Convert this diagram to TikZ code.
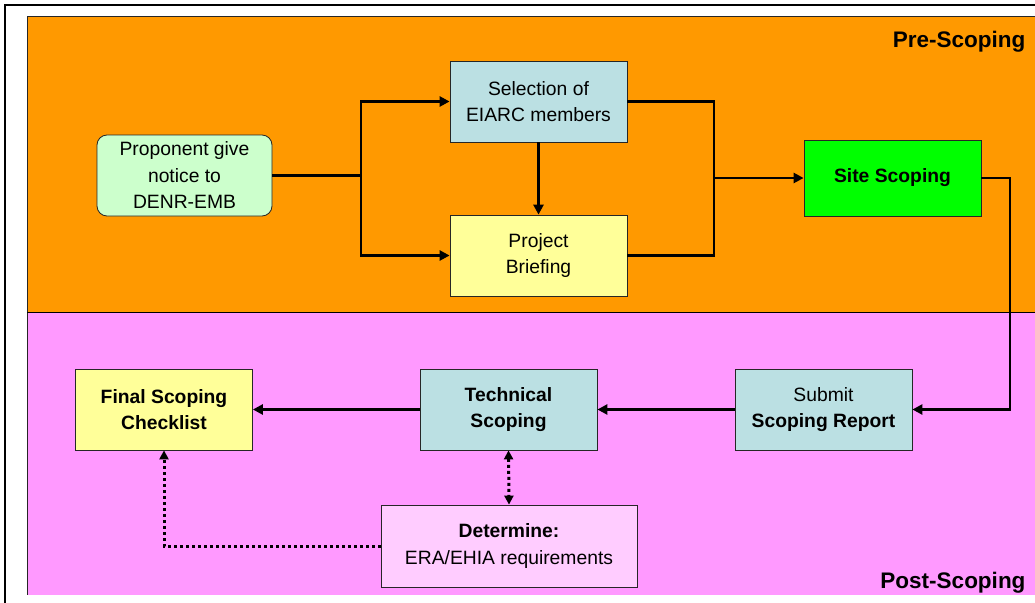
\documentclass[tikz,border=0pt]{standalone}
\usepackage{fontspec}
\setmainfont{Liberation Sans}
\usetikzlibrary{arrows.meta}
\definecolor{orangebg}{HTML}{FF9900}
\definecolor{pinkbg}{HTML}{FF99FF}
\definecolor{lgreen}{HTML}{CCFFCC}
\definecolor{lblue}{HTML}{BBE0E3}
\definecolor{lyellow}{HTML}{FFFF99}
\definecolor{lpink}{HTML}{FFCCFF}
\definecolor{sitegreen}{HTML}{00FF00}
\begin{document}
\begin{tikzpicture}[x=1pt,y=-1pt,
  box/.style={draw=black!85, line width=0.8pt, minimum width=177pt, minimum height=81pt,
    align=center, inner sep=2pt, font=\fontsize{19.3}{26.5}\selectfont},
  boldbox/.style={box, font=\fontsize{19.3}{26.5}\selectfont\bfseries},
  link/.style={line width=2.8pt},
  flow/.style={link, -{Triangle[length=10pt,width=10pt]}},
  dots/.style={line width=3pt, dash pattern=on 3pt off 3pt},
  lab/.style={anchor=base east, font=\fontsize{22.5}{27}\selectfont\bfseries}]
\useasboundingbox (0,0) rectangle (1035,602);
\fill[white] (0,0) rectangle (1035,602);
% frame and bands
\fill[orangebg] (27,17) rectangle (1036,312);
\fill[pinkbg] (27,312) rectangle (1036,595);
\draw[line width=1pt, black!85] (1036,17) -- (27,17) -- (27,595);
\draw[line width=0.8pt] (27,312) -- (1036,312);
\draw[line width=2pt] (5,603) -- (5,5) -- (1036,5);
% labels
\node[lab] (pre) at (1029,48) {Pre-Scoping};
\node[lab] (post) at (1029,588) {Post-Scoping};
% nodes
\node[box, rounded corners=10pt, fill=lgreen, minimum width=175pt] (prop) at (184.5,175.5) {Proponent give\\notice to\\DENR-EMB};
\node[box, fill=lblue] (sel) at (538.5,101.5) {Selection of\\EIARC members};
\node[box, fill=lyellow] (brief) at (538.5,255.5) {Project\\Briefing};
\node[boldbox, fill=sitegreen, minimum height=76pt] (site) at (892.5,178) {Site Scoping};
\node[box, fill=lblue] (sub) at (823.5,409.5) {Submit\\\textbf{Scoping Report}};
\node[boldbox, fill=lblue] (tech) at (508.5,409.5) {Technical\\Scoping};
\node[boldbox, fill=lyellow] (final) at (164,409.5) {Final Scoping\\Checklist};
\node[box, fill=lpink, minimum width=256pt, minimum height=82pt] (det) at (509,546) {\textbf{Determine:}\\ERA/EHIA requirements};
% connectors
\coordinate (j1) at (361,175.5);
\coordinate (j2) at (714,178);
\coordinate (j3) at (1010,409.5);
\draw[link] (prop.east) -- (j1);
\draw[flow] (j1) |- (sel.west);
\draw[flow] (j1) |- (brief.west);
\draw[flow] (sel.south) -- (brief.north);
\draw[link] (sel.east) -| (j2);
\draw[link] (brief.east) -| (j2);
\draw[flow] (j2) -- (site.west);
\draw[flow] (site.east) -| (j3) -- (sub.east);
\draw[flow] (sub.west) -- (tech.east);
\draw[flow] (tech.west) -- (final.east);
\draw[dots, {Triangle[length=9pt,width=9pt]}-{Triangle[length=9pt,width=9pt]}] (tech.south) -- (det.north);
\draw[dots, -{Triangle[length=9pt,width=9pt]}] (det.west) -| (final.south);
\end{tikzpicture}
\end{document}
